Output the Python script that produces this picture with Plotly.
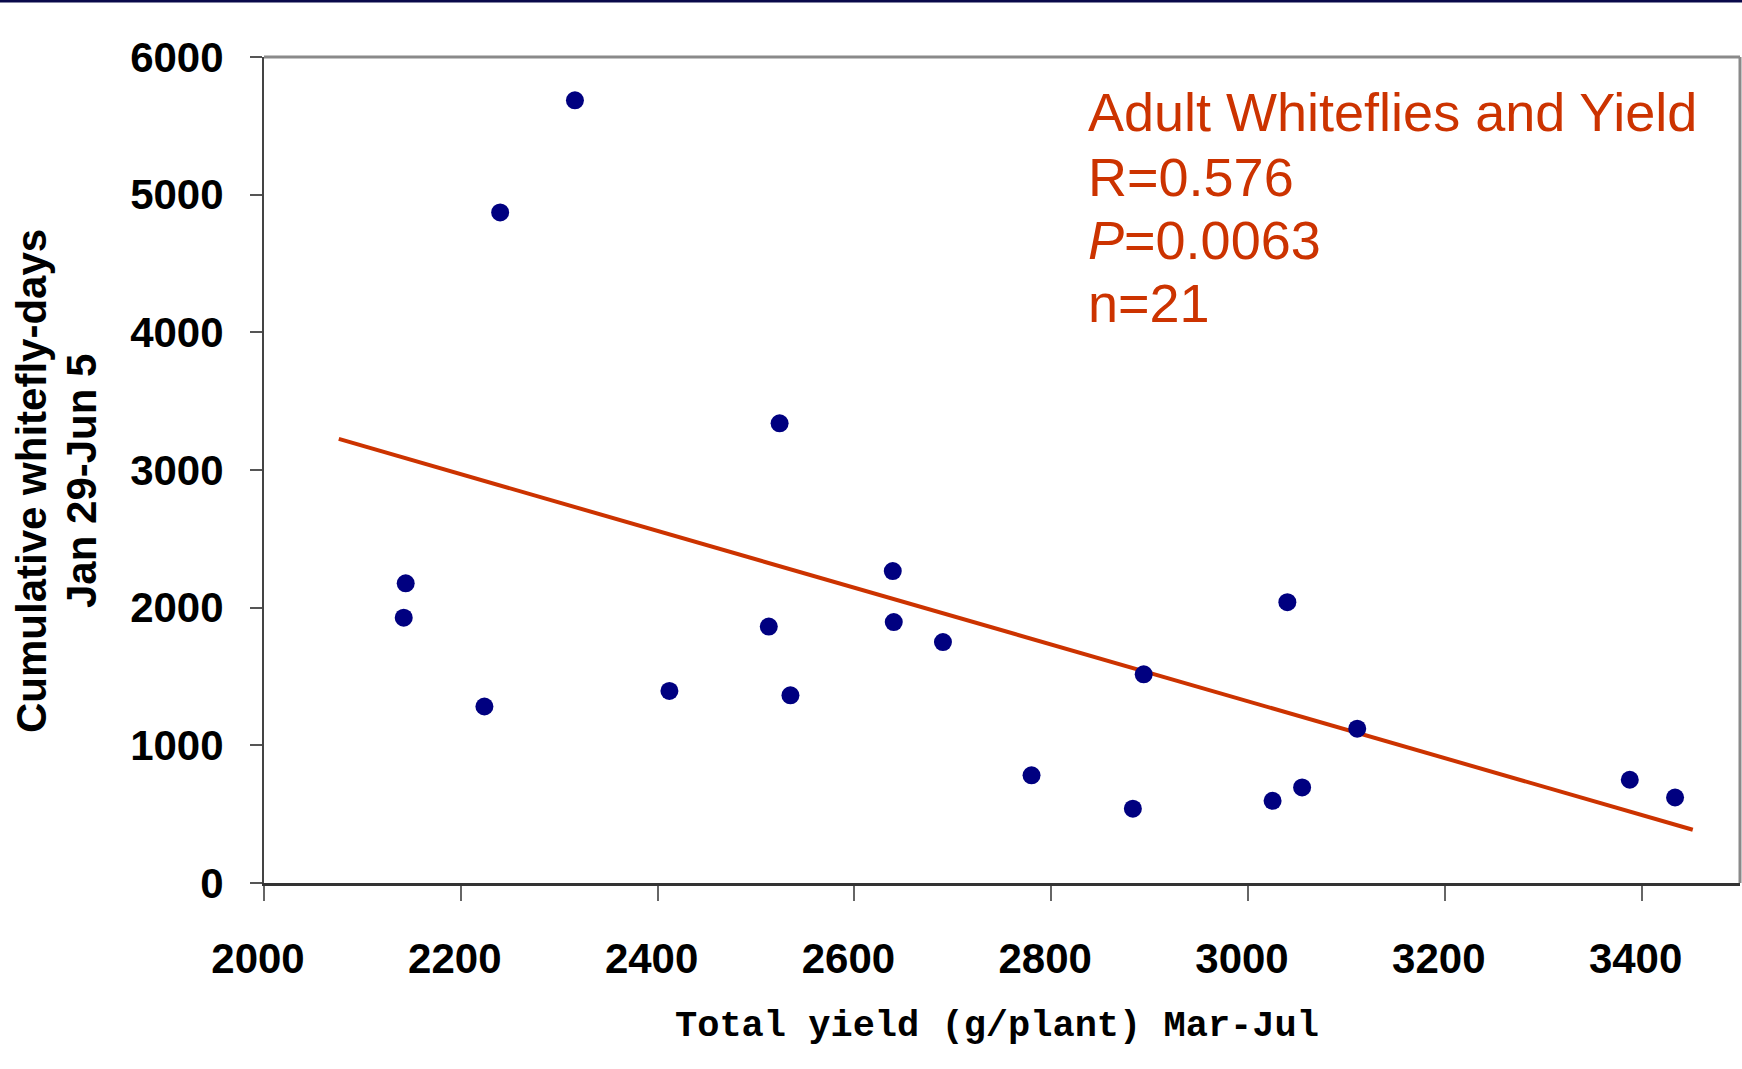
import plotly.graph_objects as go

# Data
yield_g = [2316, 2240, 2524, 2144, 2142, 2224, 2412, 2513, 2535, 2639, 2640,
           2690, 2780, 2883, 2894, 3040, 3025, 3055, 3111, 3388, 3434]
whitefly_days = [5685, 4871, 3339, 2177, 1927, 1282, 1395, 1863, 1363, 2266, 1895,
                 1750, 782, 540, 1516, 2040, 597, 694, 1121, 750, 621]
fit_x = [2076, 3452]
fit_y = [3226, 387]
x_ticks = [2000, 2200, 2400, 2600, 2800, 3000, 3200, 3400]
y_ticks = [0, 1000, 2000, 3000, 4000, 5000, 6000]
stats_lines = ["Adult Whiteflies and Yield", "R=0.576", "<i>P</i>=0.0063", "n=21"]
y_title_lines = ["Cumulative whitefly-days", "Jan 29-Jun 5"]
x_title = "Total yield (g/plant) Mar-Jul"

RED = "#CC3300"
NAVY = "#000080"

W, H = 1742, 1069
L, T, R_PX, B_PX = 264, 57, 1740, 883
PW, PH = R_PX - L, B_PX - T


def px(xp):
    return (xp - L) / PW


def py(yp):
    return 1 - (yp - T) / PH


fig = go.Figure()
fig.add_trace(go.Scatter(x=fit_x, y=fit_y, mode="lines",
                         line=dict(color=RED, width=4), showlegend=False))
fig.add_trace(go.Scatter(x=yield_g, y=whitefly_days, mode="markers",
                         marker=dict(color=NAVY, size=18, line=dict(width=0)),
                         showlegend=False))

tickfont = dict(family="Liberation Sans, Arial", size=42, color="black", weight="bold")

fig.update_xaxes(range=[2000, 3500], tickvals=x_ticks, ticks="outside", ticklen=15,
                 tickcolor="#666", tickwidth=1.5, showline=True, linecolor="#333",
                 linewidth=2.5, showgrid=False, zeroline=False,
                 tickfont=tickfont, ticklabelstandoff=22, ticklabelshift=-6)
fig.update_yaxes(range=[0, 6000], tickvals=y_ticks, ticks="outside", ticklen=12,
                 tickcolor="#555", tickwidth=1.5, showline=True, linecolor="#444",
                 linewidth=2, showgrid=False, zeroline=False,
                 tickfont=tickfont, ticklabelstandoff=18)

annotations = []
line_y_px = [112, 177, 240, 303]
for txt, ypx in zip(stats_lines, line_y_px):
    annotations.append(dict(
        text=txt, xref="paper", yref="paper", x=px(1086), y=py(ypx),
        xanchor="left", yanchor="middle", showarrow=False,
        font=dict(family="Liberation Sans, Arial", size=54, color=RED)))
for txt, xpx in zip(y_title_lines, [31, 81]):
    annotations.append(dict(
        text=txt, xref="paper", yref="paper", x=px(xpx), y=py(481), textangle=-90,
        xanchor="center", yanchor="middle", showarrow=False,
        font=dict(family="Liberation Sans, Arial", size=42, color="black", weight="bold")))
annotations.append(dict(
    text=x_title, xref="paper", yref="paper", x=px(997), y=py(1026),
    xanchor="center", yanchor="middle", showarrow=False,
    font=dict(family="Liberation Mono, Courier New", size=37, color="black", weight="bold")))

border = dict(color="#8A8A8A", width=3)
fig.update_layout(
    width=W, height=H,
    margin=dict(l=L, r=W - R_PX, t=T, b=H - B_PX),
    paper_bgcolor="white", plot_bgcolor="white",
    annotations=annotations,
    shapes=[
        dict(type="line", xref="paper", yref="paper", x0=px(0), x1=px(W),
             y0=py(1), y1=py(1), line=dict(color="#0A0A4A", width=3)),
        dict(type="line", xref="paper", yref="paper", x0=0, x1=1, y0=1, y1=1, line=border),
        dict(type="line", xref="paper", yref="paper", x0=1, x1=1, y0=0, y1=1, line=border),
    ],
)

fig.write_html("out.html", config={"displayModeBar": False},
               post_script="document.body.style.margin='0';document.body.style.overflow='hidden';")
